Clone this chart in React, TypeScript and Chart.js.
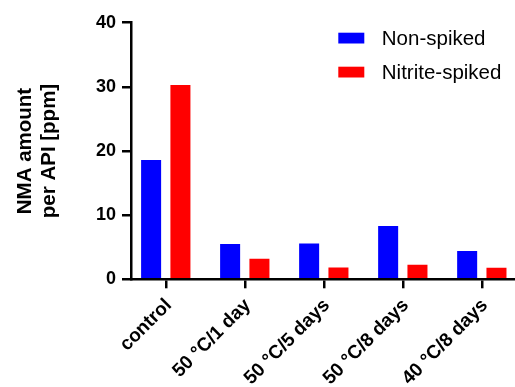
import React, { useEffect, useRef } from "react";
import { Chart, registerables } from "chart.js";

Chart.register(...registerables);

const categories = ["control", "50 °C/1 day", "50 °C/5 days", "50 °C/8 days", "40 °C/8 days"];
const nonSpiked = [18.6, 5.5, 5.6, 8.3, 4.4];
const nitriteSpiked = [30.3, 3.2, 1.85, 2.25, 1.8];
const seriesNames = ["Non-spiked", "Nitrite-spiked"];
const seriesColors = ["#0000FF", "#FF0000"];
const yTicks = [0, 10, 20, 30, 40];
const yTitle = ["NMA amount", "per API [ppm]"];

const FONT = "'Liberation Sans', Arial, Helvetica, sans-serif";

const insideLegend = {
  id: "insideLegend",
  afterDraw(chart: any, _args: any, opts: any) {
    const ctx = chart.ctx;
    ctx.save();
    ctx.font = opts.font;
    ctx.textBaseline = "middle";
    ctx.textAlign = "left";
    chart.data.datasets.forEach((ds: any, i: number) => {
      const top = opts.y + i * opts.rowGap;
      ctx.fillStyle = ds.backgroundColor;
      ctx.fillRect(opts.x, top, opts.boxW, opts.boxH);
      ctx.fillStyle = opts.color;
      ctx.fillText(ds.label, opts.x + opts.boxW + opts.textGap, top + opts.boxH / 2 + 1);
    });
    ctx.restore();
  },
};

export default function App() {
  const ref = useRef<HTMLCanvasElement | null>(null);

  useEffect(() => {
    if (!ref.current) return;
    const chart = new Chart(ref.current, {
      type: "bar",
      data: {
        datasets: [
          {
            label: seriesNames[0],
            data: nonSpiked.map((y, i) => ({ x: i, y })),
            backgroundColor: seriesColors[0],
            borderWidth: 0,
          },
          {
            label: seriesNames[1],
            data: nitriteSpiked.map((y, i) => ({ x: i, y })),
            backgroundColor: seriesColors[1],
            borderWidth: 0,
          },
        ],
      },
      options: {
        animation: false,
        responsive: false,
        layout: { padding: { top: 22.7, left: 0, right: 0, bottom: 0 } },
        datasets: { bar: { categoryPercentage: 0.742, barPercentage: 0.683 } },
        plugins: {
          legend: { display: false },
          tooltip: { enabled: false },
          insideLegend: {
            x: 338.3,
            y: 32.7,
            boxW: 26,
            boxH: 10.8,
            rowGap: 34,
            textGap: 17.5,
            font: `400 20.5px ${FONT}`,
            color: "#000",
          },
        } as any,
        scales: {
          x: {
            type: "linear",
            min: -0.44,
            max: 4.42,
            offset: false,
            afterBuildTicks: (s: any) => {
              s.ticks = categories.map((_, i) => ({ value: i }));
            },
            afterFit: (s: any) => {
              s.height = 107.7;
              s.paddingLeft = 0;
              s.paddingRight = 0;
            },
            grid: {
              display: true,
              drawOnChartArea: false,
              drawTicks: true,
              tickLength: 9,
              tickWidth: 2.5,
              tickColor: "#000",
              offset: false,
              lineWidth: 2.5,
              color: "#000",
            },
            border: { display: true, color: "#000", width: 2.5 },
            ticks: {
              autoSkip: false,
              maxRotation: 45,
              minRotation: 45,
              padding: 6,
              labelOffset: 3,
              color: "#000",
              font: { family: FONT, size: 19, weight: "bold" },
              callback: (v: any) => categories[v as number],
            },
          } as any,
          y: {
            min: 0,
            max: 40,
            afterBuildTicks: (s: any) => {
              s.ticks = yTicks.map((v) => ({ value: v }));
            },
            afterFit: (s: any) => {
              s.width = 131;
              s.paddingTop = 0;
              s.paddingBottom = 0;
            },
            grid: {
              display: true,
              drawOnChartArea: false,
              drawTicks: true,
              tickLength: 9,
              tickWidth: 2.5,
              tickColor: "#000",
              lineWidth: 2.5,
              color: "#000",
            },
            border: { display: true, color: "#000", width: 2.5 },
            ticks: {
              padding: 6,
              color: "#000",
              font: { family: FONT, size: 18, weight: "bold" },
            },
            title: {
              display: true,
              text: yTitle,
              color: "#000",
              font: { family: FONT, size: 20.5, weight: "bold", lineHeight: 1.15 },
              padding: { top: 14, bottom: 0 },
            },
          } as any,
        },
      },
      plugins: [insideLegend as any],
    });
    return () => chart.destroy();
  }, []);

  return (
    <div style={{ position: "fixed", left: 0, top: 0, width: 515, height: 387, overflow: "hidden", background: "#fff" }}>
      <canvas ref={ref} width={515} height={387} style={{ display: "block", width: 515, height: 387 }} />
    </div>
  );
}
